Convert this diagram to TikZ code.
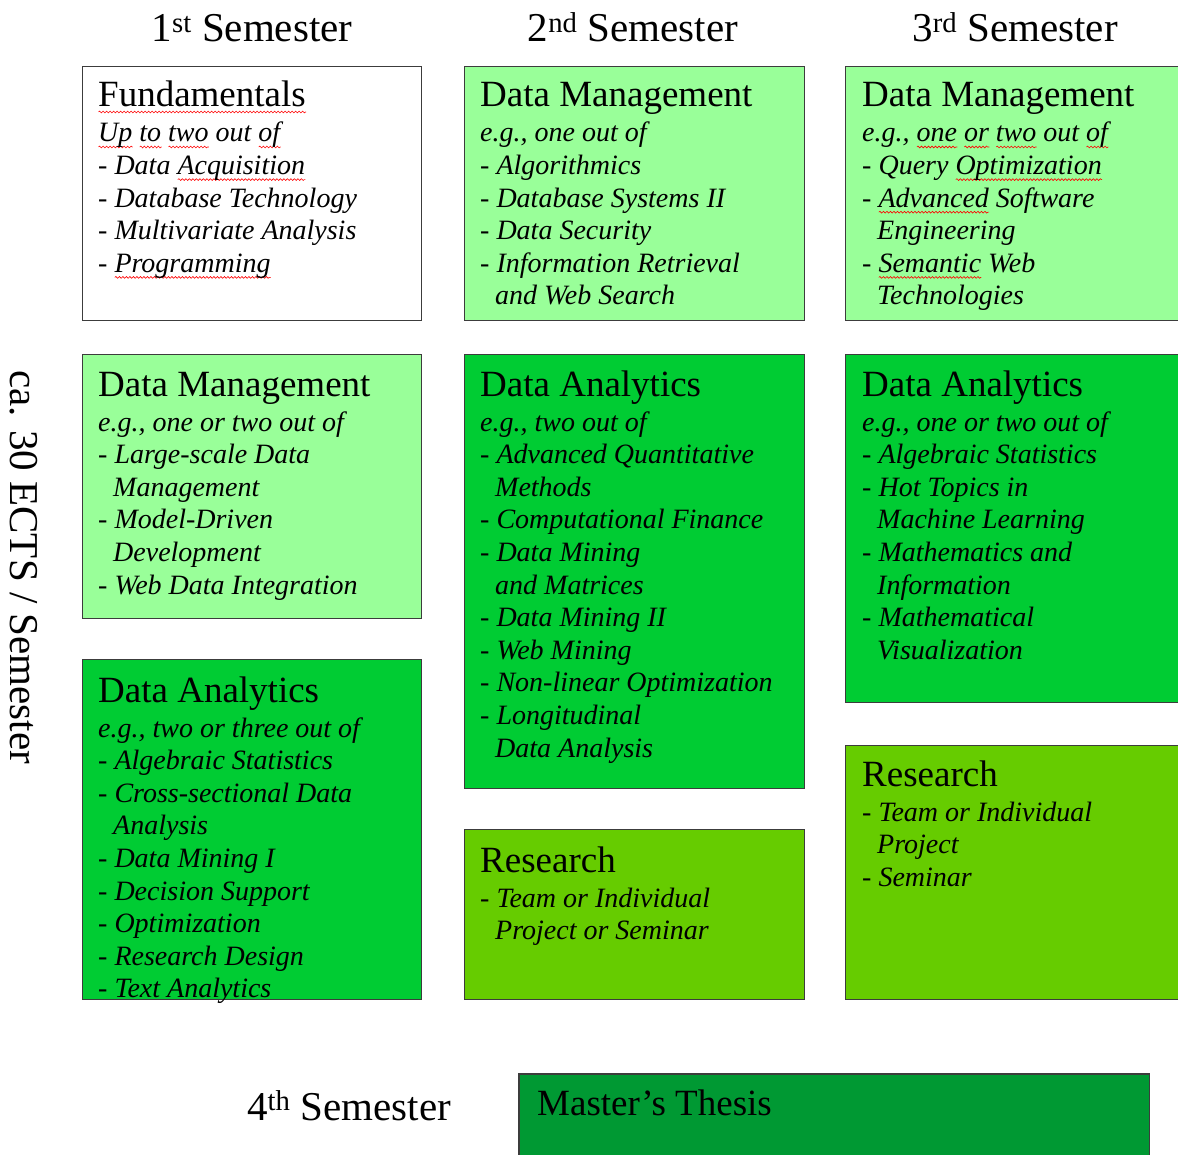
\documentclass[tikz,border=0pt]{standalone}
\usepackage{fontspec}
\setmainfont{Liberation Serif}
\usetikzlibrary{decorations.pathmorphing}
\definecolor{lightg}{RGB}{153,255,153}
\definecolor{midg}{RGB}{0,204,51}
\definecolor{resg}{RGB}{102,204,0}
\definecolor{thesg}{RGB}{0,153,51}
\definecolor{bord}{RGB}{60,60,60}
\newlength\spw
\newcommand\spell[1]{\settowidth\spw{#1}\leavevmode\rlap{\tikz[baseline=0pt,x=1pt,y=1pt]\draw[red,line width=0.6pt,decorate,decoration={snake,amplitude=0.9pt,segment length=3.5pt}] (0pt,-5pt) -- (\spw,-5pt);}#1}
\newcommand\ind{\hspace*{15pt}}
\begin{document}
\begin{tikzpicture}[x=1pt,y=-1pt,
  box/.style={draw=bord, line width=1.4pt, anchor=north west, inner sep=0pt},
  ttl/.style={anchor=base west, inner sep=0pt, font=\fontsize{37}{40}\selectfont},
  itm/.style={anchor=base west, inner sep=0pt, align=left, font=\fontsize{28}{32.6}\selectfont\itshape},
  sem/.style={anchor=base, inner sep=0pt, font=\fontsize{41}{44}\selectfont}]
\useasboundingbox (0,0) rectangle (1178,1155);
\clip (0,0) rectangle (1178,1155);

% semester headings
\node[sem] (s1) at (252,42) {1\textsuperscript{st} Semester};
\node[sem] (s2) at (633,42) {2\textsuperscript{nd} Semester};
\node[sem] (s3) at (1015,42) {3\textsuperscript{rd} Semester};
\node[sem] (s4) at (349,1120) {4\textsuperscript{th} Semester};
\node[inner sep=0pt, rotate=-90, font=\fontsize{41}{44}\selectfont] (ects) at (24,567) {ca. 30 ECTS / Semester};

% boxes
\node[box, fill=white, minimum width=339pt, minimum height=254pt] (b11) at (82,66) {};
\node[box, fill=lightg, minimum width=340pt, minimum height=254pt] (b21) at (464,66) {};
\node[box, fill=lightg, minimum width=345pt, minimum height=254pt] (b31) at (845,66) {};
\node[box, fill=lightg, minimum width=339pt, minimum height=264pt] (b12) at (82,354) {};
\node[box, fill=midg, minimum width=340pt, minimum height=434pt] (b22) at (464,354) {};
\node[box, fill=midg, minimum width=345pt, minimum height=348pt] (b32) at (845,354) {};
\node[box, fill=midg, minimum width=339pt, minimum height=340pt] (b13) at (82,659) {};
\node[box, fill=resg, minimum width=340pt, minimum height=170pt] (b23) at (464,829) {};
\node[box, fill=resg, minimum width=345pt, minimum height=254pt] (b33) at (845,745) {};
\node[box, draw=none, fill=thesg, minimum width=629pt, minimum height=120pt] (b4) at (519,1074) {};
\draw[bord, line width=1.4pt] (b4.south west) -- (b4.north west) -- (b4.north east) -- (b4.south east);

% box 1,1
\node[ttl] (t11) at (98,107) {\spell{Fundamentals}};
\node[itm] (i11) at (98,{142+4*32.6}) {\spell{Up} \spell{to} \spell{two} out \spell{of}\\
- Data \spell{Acquisition}\\
- Database Technology\\
- Multivariate Analysis\\
- \spell{Programming}};

% box 2,1
\node[ttl] (t21) at (480,107) {Data Management};
\node[itm] (i21) at (480,{142+5*32.6}) {e.g., one out of\\
- Algorithmics\\
- Database Systems II\\
- Data Security\\
- Information Retrieval\\
\ind and Web Search};

% box 3,1
\node[ttl] (t31) at (862,107) {Data Management};
\node[itm] (i31) at (862,{142+5*32.6}) {e.g., \spell{one} \spell{or} \spell{two} out \spell{of}\\
- Query \spell{Optimization}\\
- \spell{Advanced} Software\\
\ind Engineering\\
- \spell{Semantic} Web\\
\ind Technologies};

% box 1,2
\node[ttl] (t12) at (98,396) {Data Management};
\node[itm] (i12) at (98,{431+5*32.6}) {e.g., one or two out of\\
- Large-scale Data\\
\ind Management\\
- Model-Driven\\
\ind Development\\
- Web Data Integration};

% box 2,2
\node[ttl] (t22) at (480,396) {Data Analytics};
\node[itm] (i22) at (480,{431+10*32.6}) {e.g., two out of\\
- Advanced Quantitative\\
\ind Methods\\
- Computational Finance\\
- Data Mining\\
\ind and Matrices\\
- Data Mining II\\
- Web Mining\\
- Non-linear Optimization\\
- Longitudinal\\
\ind Data Analysis};

% box 3,2
\node[ttl] (t32) at (862,396) {Data Analytics};
\node[itm] (i32) at (862,{431+7*32.6}) {e.g., one or two out of\\
- Algebraic Statistics\\
- Hot Topics in\\
\ind Machine Learning\\
- Mathematics and\\
\ind Information\\
- Mathematical\\
\ind Visualization};

% box 1,3
\node[ttl] (t13) at (98,702) {Data Analytics};
\node[itm] (i13) at (98,{737+8*32.6}) {e.g., two or three out of\\
- Algebraic Statistics\\
- Cross-sectional Data\\
\ind Analysis\\
- Data Mining I\\
- Decision Support\\
- Optimization\\
- Research Design\\
- Text Analytics};

% box 2,3
\node[ttl] (t23) at (480,872) {Research};
\node[itm] (i23) at (480,{907+32.6}) {- Team or Individual\\
\ind Project or Seminar};

% box 3,3
\node[ttl] (t33) at (862,786) {Research};
\node[itm] (i33) at (862,{821+2*32.6}) {- Team or Individual\\
\ind Project\\
- Seminar};

% thesis
\node[ttl] (t4) at (537,1115) {Master’s Thesis};
\end{tikzpicture}
\end{document}
